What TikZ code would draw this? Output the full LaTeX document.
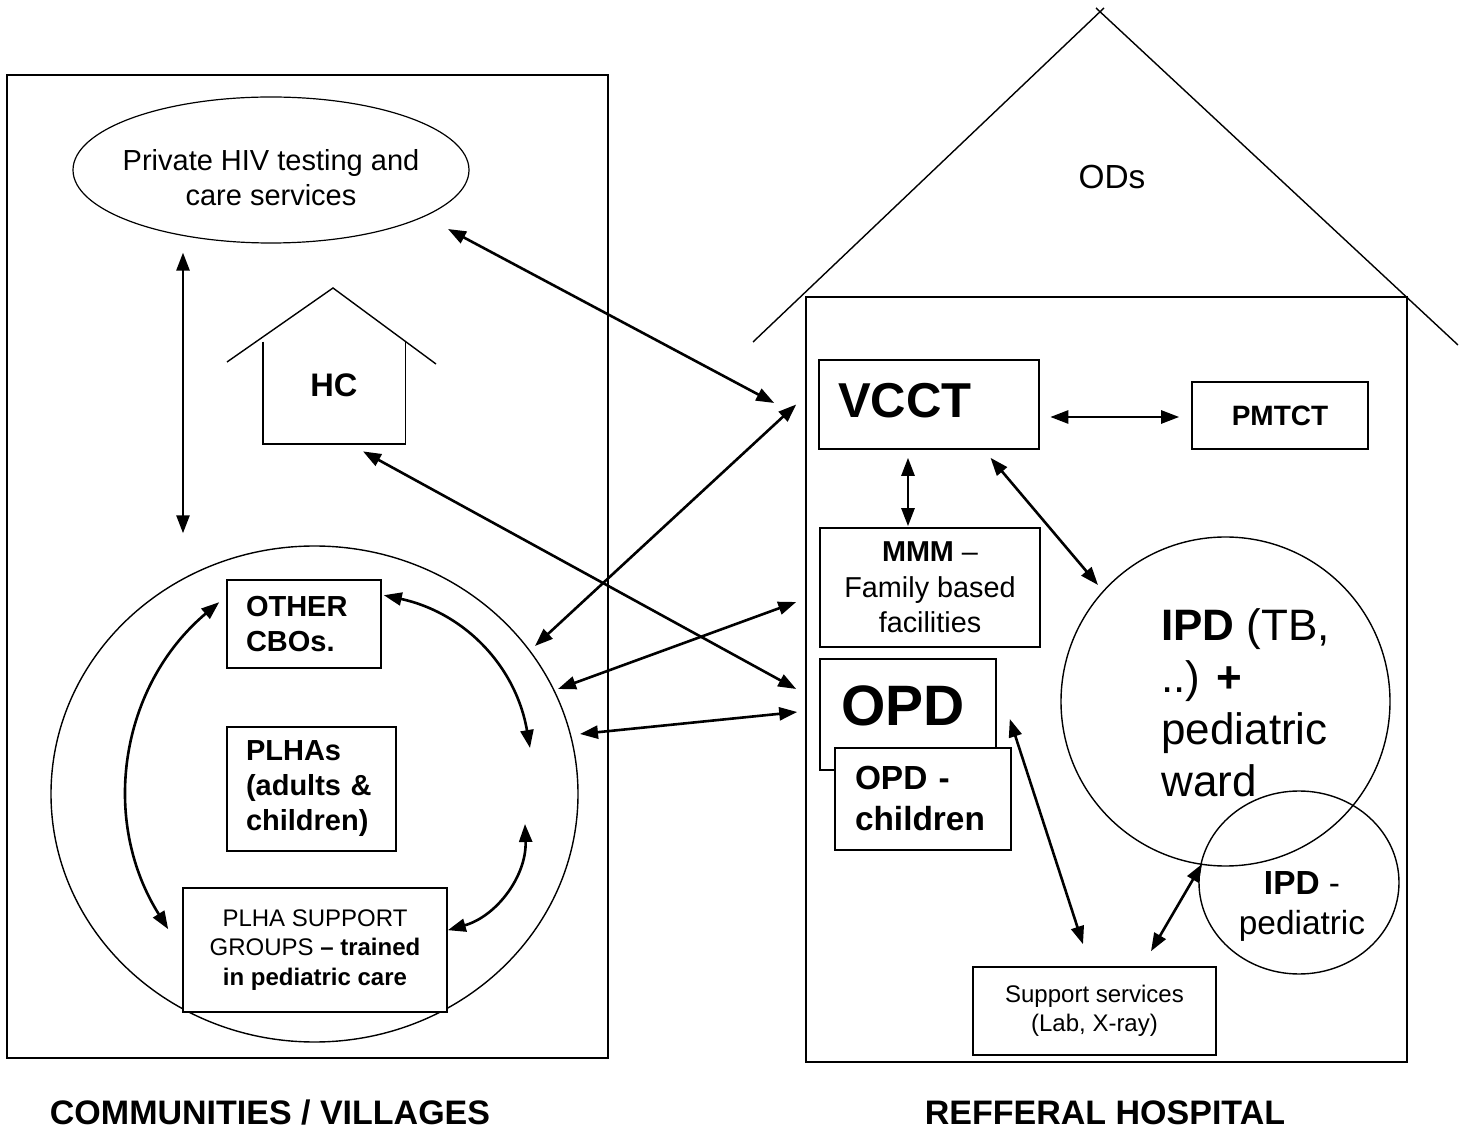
\documentclass[tikz,border=0pt]{standalone}
\usepackage{fontspec}
\setmainfont{Liberation Sans}
\usetikzlibrary{shapes.geometric,arrows.meta,calc}
\newcommand{\fsz}[2]{\fontsize{#1}{#2}\selectfont}

\begin{document}
\begin{tikzpicture}[x=0.5pt,y=-0.5pt,
  every node/.style={inner sep=0pt},
  box/.style={draw,line width=0.8pt,fill=white},
  lbox/.style={box,align=left},
  cbox/.style={box,align=center},
  link/.style={<->,line width=1.3pt,>={Triangle[length=9pt,width=6.5pt]}},
  wall/.style={line width=0.9pt},
  roof/.style={line width=0.7pt}]
  \useasboundingbox (0,0) rectangle (1468,1133);
  \draw[wall] (7,75) rectangle (608,1058);
  \draw[wall] (806,297) rectangle (1407,1062);
  \draw[roof] (753,342) -- (1104,8) (1096,8) -- (1458,345);
  \draw[roof] (227,362) -- (333,288) -- (436,364);

  \node[ellipse,draw,line width=0.6pt,minimum width=198pt,minimum height=73pt,
    label={[align=center,yshift=-4pt,font=\fsz{14.5}{17.5}]center:Private HIV testing and\\care services}] (private) at (271,170) {};
  \node[minimum width=71pt,minimum height=51pt,text depth=8pt,font=\fsz{16.3}{19}\bfseries] (hc) at (334,393) {HC};
  \draw[wall] (hc.north west) |- (hc.south east) -- (hc.north east);
  \node[ellipse,draw,line width=0.7pt,minimum width=263.5pt,minimum height=248pt] (plhaworld) at (314.5,794) {};
  \node[lbox,text width=58pt,inner xsep=9.5pt,minimum height=44pt,font=\fsz{14.5}{17.5}\bfseries] (cbos) at (304,624) {OTHER\\CBOs.};
  \node[lbox,text width=65.5pt,inner xsep=9.5pt,minimum height=62pt,font=\fsz{14.5}{17.5}\bfseries] (plhas) at (311.5,789) {PLHAs\\(adults \&\\children)};
  \node[cbox,minimum width=132pt,minimum height=62pt,font=\fsz{12}{14.75}] (support) at (315,950) {PLHA SUPPORT\\GROUPS \textbf{-- trained}\\\textbf{in pediatric care}};
  \coordinate (cbosarc) at (530,748);
  \coordinate (supparc) at (525,824);

  \node[font=\fsz{16.7}{20}] (ods) at (1112,177) {ODs};
  \node[lbox,text width=91pt,inner xsep=9.5pt,minimum height=44.5pt,text depth=4.5pt,font=\fsz{24.5}{29}\bfseries] (vcct) at (929,404.5) {VCCT};
  \node[cbox,minimum width=88pt,minimum height=33.5pt,font=\fsz{14}{17}\bfseries] (pmtct) at (1280,415.5) {PMTCT};
  \node[cbox,minimum width=110pt,minimum height=59.5pt,font=\fsz{14.4}{17.75}] (mmm) at (930,587.5) {\textbf{MMM} --\\Family based\\facilities};
  \node[lbox,text width=67pt,inner xsep=10.5pt,minimum height=55.5pt,text depth=9pt,font=\fsz{28.5}{34}\bfseries] (opd) at (908,714.5) {OPD};
  \node[lbox,text width=68pt,inner xsep=10pt,minimum height=51pt,font=\fsz{16.7}{20.5}\bfseries] (opdchild) at (923,799) {OPD -\\children};
  \node[circle,draw,line width=0.7pt,minimum size=164.5pt] (ipd) at (1225.5,701.5) {};
  \node[anchor=west,align=left,font=\fsz{22}{26}] (ipdtxt) at (1161,703) {\textbf{IPD} (TB,\\..) \textbf{+}\\pediatric\\ward};
  \node[ellipse,draw,line width=0.7pt,minimum width=100pt,minimum height=91.5pt] (ipdped) at (1299,882.5) {};
  \node[align=center,font=\fsz{16.7}{20}] (ipdpedtxt) at (1302,906) {\textbf{IPD} -\\pediatric};
  \node[cbox,minimum width=121.5pt,minimum height=44pt,font=\fsz{12}{14.5}] (lab) at (1094.5,1011) {Support services\\(Lab, X-ray)};

  \node[font=\fsz{17}{20}\bfseries] (villages) at (270,1113) {COMMUNITIES / VILLAGES};
  \node[font=\fsz{17}{20}\bfseries] (hospital) at (1105,1113) {REFFERAL HOSPITAL};

  \draw[link] ($(cbos.north west)+(-7,23)$) to[bend right=41] ($(support.north west)+(-14,42)$);
  \draw[link] ($(cbos.north east)+(2,16)$) to[bend left=34] (cbosarc);
  \draw[link] (supparc) to[bend left=38] ($(support.north east)+(0,43)$);
  \draw[link] ($(private.south)+(-88,9)$) -- ($(plhaworld.north)+(-131.5,-12)$);
  \draw[link] ($(private)+(177,59)$) -- ($(vcct.west)+(-44,-1.5)$);
  \draw[link] ($(plhaworld)+(220.5,-148)$) -- ($(vcct.west)+(-22,0)$);
  \draw[link] ($(hc.south)+(29,7)$) -- ($(opd.west)+(-23,-25.5)$);
  \draw[link] ($(plhaworld)+(243.5,-105)$) -- ($(mmm.west)+(-23,14.5)$);
  \draw[link] ($(plhaworld)+(265.5,-60)$) -- ($(opd.west)+(-22,-2.5)$);
  \draw[link] ($(vcct.east)+(10.5,12.5)$) -- ($(pmtct.west)+(-12,1.5)$);
  \draw[link] ($(vcct.south)+(-21,8)$) -- ($(mmm.north)+(-22,-1)$);
  \draw[link] ($(vcct.south)+(61.5,8)$) -- ($(ipd)+(-127.5,-116.5)$);
  \draw[link] ($(opd.east)+(13,4.5)$) -- ($(lab.north)+(-11.5,-22)$);
  \draw[link] ($(lab.north)+(56.5,-15)$) -- ($(ipdped)+(-97,-18.5)$);
\end{tikzpicture}
\end{document}
